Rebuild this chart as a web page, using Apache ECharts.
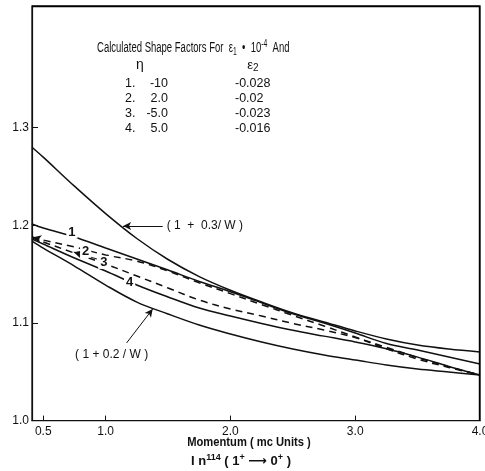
<!DOCTYPE html>
<html>
<head>
<meta charset="utf-8">
<script src="https://cdn.jsdelivr.net/npm/echarts@6/dist/echarts.min.js"></script>
<style>
  html, body { margin: 0; padding: 0; background: #fff; }
  #chart { width: 485px; height: 471px; }
</style>
</head>
<body>
<div id="chart"></div>
<script>
// ---- data ----
const momentum = [0.41, 0.5, 0.75, 1.0, 1.25, 1.5, 1.75, 2.0, 2.25, 2.5, 2.75, 3.0, 3.25, 3.5, 3.75, 4.0];
const ref03  = [1.2800,1.2698,1.2401,1.2120,1.1865,1.1650,1.1475,1.1335,1.1214,1.1102,1.1010,1.0918,1.0836,1.0774,1.0733,1.0703];
const ref02  = [1.1839,1.1767,1.1583,1.1388,1.1214,1.1092,1.0979,1.0887,1.0805,1.0733,1.0672,1.0621,1.0569,1.0528,1.0498,1.0467];
const curve1 = [1.2013,1.1972,1.1880,1.1767,1.1655,1.1542,1.1425,1.1320,1.1206,1.1094,1.0999,1.0897,1.0790,1.0723,1.0651,1.0579];
const curve2 = [1.1880,1.1849,1.1778,1.1696,1.1634,1.1532,1.1412,1.1300,1.1188,1.1077,1.0969,1.0856,1.0735,1.0630,1.0544,1.0467];
const curve3 = [1.1870,1.1829,1.1716,1.1603,1.1481,1.1358,1.1235,1.1143,1.1071,1.0995,1.0928,1.0850,1.0750,1.0645,1.0552,1.0467];
const curve4 = [1.1860,1.1808,1.1665,1.1532,1.1389,1.1266,1.1153,1.1071,1.0995,1.0925,1.0865,1.0805,1.0735,1.0650,1.0555,1.0467];

const xTickValues = [0.5, 1.0, 2.0, 3.0, 4.0];
const xTickLabels = ['0.5', '1.0', '2.0', '3.0', '4.0'];
const yTickValues = [1.0, 1.1, 1.2, 1.3];
const yTickLabels = ['1.0', '1.1', '1.2', '1.3'];

const rowNums = ['1.', '2.', '3.', '4.'];
const etaVals = ['-10', '2.0', '-5.0', '5.0'];
const eps2Vals = ['-0.028', '-0.02', '-0.023', '-0.016'];

// ---- chart ----
const INK = '#111';
const FONT = "'Liberation Sans', 'DejaVu Sans', sans-serif";
const GRID = { left: 32, right: 5, top: 6, bottom: 50.4 };
const W = 485, H = 471;
const pair = (xs, ys) => xs.map((x, i) => [x, ys[i]]);

const chart = echarts.init(document.getElementById('chart'), null, { renderer: 'canvas', width: W, height: H });

function lineSeries(name, ys, dashed, extra) {
  return Object.assign({
    name, type: 'line', data: pair(momentum, ys),
    showSymbol: false, smooth: 0.35,
    lineStyle: { color: INK, width: 1.5, type: dashed ? [7, 5] : 'solid' },
    z: 3, silent: true, animation: false
  }, extra || {});
}

function numLabel(text, coord) {
  return {
    symbol: 'rect', symbolSize: 1, itemStyle: { color: 'rgba(0,0,0,0)' },
    data: [{ coord }],
    label: { show: true, formatter: text, color: INK, fontSize: 13, fontWeight: 'bold',
             fontFamily: FONT, backgroundColor: '#fff', padding: [0, 2] }
  };
}

const arrowLine = (from, to) => ({
  symbol: ['none', 'arrow'], symbolSize: [6, 8], silent: true, animation: false,
  lineStyle: { color: INK, width: 1, type: 'solid' },
  label: { show: false },
  data: [[{ coord: from }, { coord: to }]]
});

const frameRight = W - GRID.right - 0.5;
const frameTop = GRID.top + 0.5;
const frameBottom = H - GRID.bottom;

const option = {
  backgroundColor: '#fff',
  animation: false,
  grid: Object.assign({ outerBoundsMode: 'none', containLabel: false, show: true,
                        borderColor: INK, borderWidth: 1.3, backgroundColor: 'rgba(0,0,0,0)' }, GRID),
  xAxis: {
    type: 'value', min: 0.41, max: 4.0,
    axisLine: { show: true, onZero: false, lineStyle: { color: INK, width: 1.2 } },
    axisTick: { show: true, inside: true, length: 5, customValues: [0.5, 1.0, 2.0, 3.0], lineStyle: { color: INK } },
    axisLabel: { customValues: xTickValues, formatter: v => xTickLabels[xTickValues.indexOf(v)] || '',
                 color: INK, fontSize: 12, fontFamily: FONT, margin: 5 },
    splitLine: { show: false }
  },
  yAxis: {
    type: 'value', min: 1.0, max: 1.4246,
    axisLine: { show: true, onZero: false, lineStyle: { color: INK, width: 1.2 } },
    axisTick: { show: true, inside: true, length: 6, customValues: [1.1, 1.2, 1.3], lineStyle: { color: INK } },
    axisLabel: { customValues: yTickValues, formatter: v => yTickLabels[yTickValues.indexOf(v)] || '',
                 color: INK, fontSize: 12, fontFamily: FONT, margin: 3 },
    splitLine: { show: false }
  },
  series: [
    lineSeries('(1 + 0.3/W)', ref03, false, {
      markLine: Object.assign(arrowLine([1.457, 1.1992], [1.14, 1.1992]), {
        label: { show: true, position: 'start', formatter: '( 1  +  0.3/ W )', color: INK,
                 fontSize: 12, fontFamily: FONT, distance: 4 }
      })
    }),
    lineSeries('(1 + 0.2/W)', ref02, false, {
      markLine: arrowLine([1.168, 1.0795], [1.377, 1.1143]),
      markPoint: {
        symbol: 'rect', symbolSize: 1, itemStyle: { color: 'rgba(0,0,0,0)' },
        data: [{ coord: [1.048, 1.0672] }],
        label: { show: true, formatter: '( 1 + 0.2 / W )', color: INK, fontSize: 12, fontFamily: FONT }
      }
    }),
    lineSeries('1', curve1, false, { markPoint: numLabel('1', [0.73, 1.193]) }),
    lineSeries('2', curve2, true, {
      markPoint: numLabel('2', [0.84, 1.1735]),
      markLine: arrowLine([0.47, 1.1862], [0.42, 1.1879])
    }),
    lineSeries('3', curve3, true, {
      markPoint: numLabel('3', [0.985, 1.1620]),
      markLine: arrowLine([0.93, 1.1655], [0.745, 1.1725])
    }),
    lineSeries('4', curve4, false, { markPoint: numLabel('4', [1.192, 1.1415]) })
  ],
  graphic: {
    elements: [
      { type: 'line', z: 100, silent: true,
        shape: { x1: GRID.left, y1: frameTop, x2: frameRight, y2: frameTop },
        style: { stroke: '#000', lineWidth: 1.4 } },
      { type: 'line', z: 100, silent: true,
        shape: { x1: frameRight, y1: frameTop, x2: frameRight, y2: frameBottom },
        style: { stroke: '#000', lineWidth: 1.4 } },
      { type: 'text', x: 97, y: 48, scaleX: 0.68, z: 10, style: {
          text: '{t|Calculated Shape Factors For  ε}{s|1}{t|  •  10}{p|-4}{t|  And}',
          verticalAlign: 'middle',
          rich: {
            t: { fontSize: 14, fontFamily: FONT, fill: INK },
            s: { fontSize: 10, fontFamily: FONT, fill: INK, padding: [8, 0, 0, 0] },
            p: { fontSize: 10, fontFamily: FONT, fill: INK, padding: [0, 0, 8, 0] }
          } } },
      { type: 'text', x: 140, y: 65, z: 10, style: { text: 'η', fontSize: 14, fontFamily: FONT, fill: INK, align: 'center', verticalAlign: 'middle' } },
      { type: 'text', x: 253, y: 65, z: 10, style: {
          text: '{t|ε}{s|2}', align: 'center', verticalAlign: 'middle',
          rich: { t: { fontSize: 13, fontFamily: FONT, fill: INK }, s: { fontSize: 10, fontFamily: FONT, fill: INK, padding: [6, 0, 0, 0] } } } },
      ...rowNums.map((t, i) => ({ type: 'text', x: 125, y: 84 + i * 14.7, z: 10,
          style: { text: t, fontSize: 12.5, fontFamily: FONT, fill: INK, verticalAlign: 'middle' } })),
      ...etaVals.map((t, i) => ({ type: 'text', x: 168, y: 84 + i * 14.7, z: 10,
          style: { text: t, fontSize: 12.5, fontFamily: FONT, fill: INK, align: 'right', verticalAlign: 'middle' } })),
      ...eps2Vals.map((t, i) => ({ type: 'text', x: 235, y: 84 + i * 14.7, z: 10,
          style: { text: t, fontSize: 12.5, fontFamily: FONT, fill: INK, verticalAlign: 'middle' } })),
      { type: 'text', x: 249, y: 442, z: 10, scaleX: 0.86, style: {
          text: 'Momentum ( mc Units )', fontSize: 13, fontWeight: 'bold', fontFamily: FONT, fill: INK,
          align: 'center', verticalAlign: 'middle' } },
      { type: 'text', x: 241, y: 461, z: 10, style: {
          text: '{t|I n}{p|114}{t| ( 1}{p|+}{t| ⟶ 0}{p|+}{t| )}', align: 'center', verticalAlign: 'middle',
          rich: {
            t: { fontSize: 13, fontWeight: 'bold', fontFamily: FONT, fill: INK },
            p: { fontSize: 9, fontWeight: 'bold', fontFamily: FONT, fill: INK, padding: [0, 0, 7, 0] }
          } } }
    ]
  }
};

chart.setOption(option);
</script>
</body>
</html>
